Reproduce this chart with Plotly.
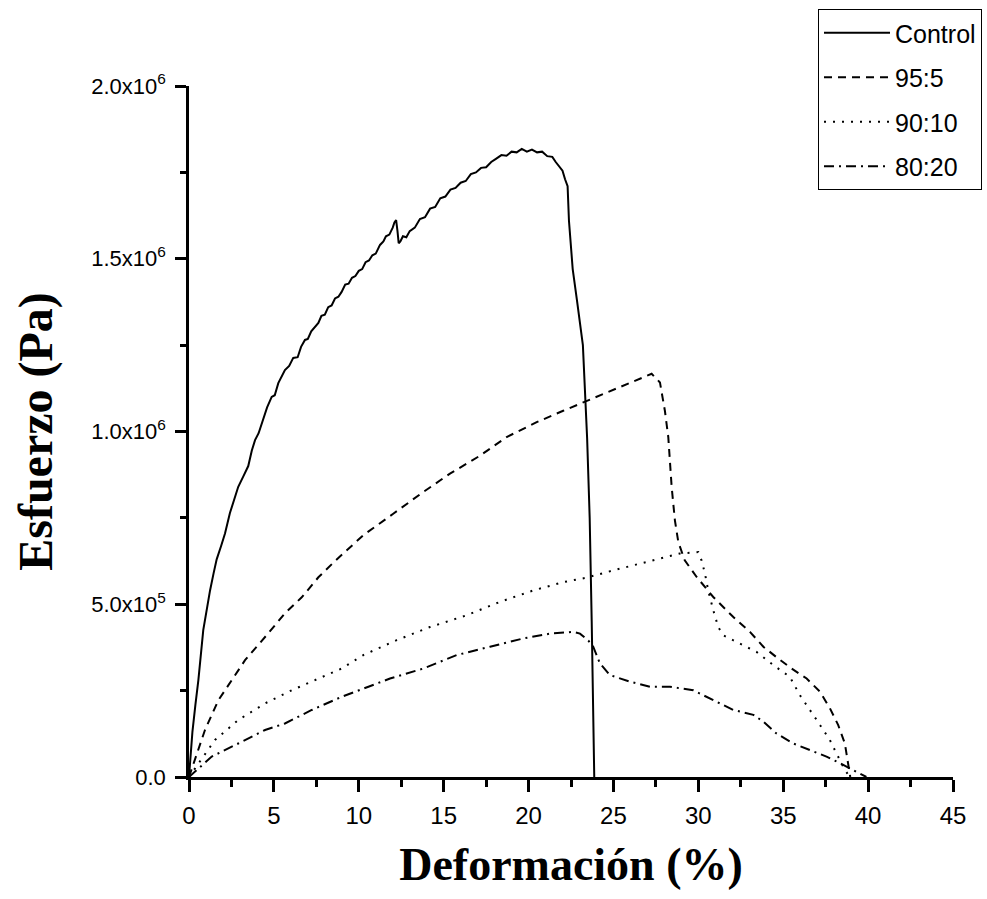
import plotly.graph_objects as go

# ---- data (strain %, stress in 1e6 Pa) ----
control_x = [0, 0.08, 0.2, 0.38, 0.55, 0.84, 1.05, 1.24, 1.45, 1.63, 1.9, 2.12, 2.41, 2.65,
             2.9, 3.2, 3.49, 3.7, 3.89, 4.1, 4.37, 4.6, 4.87, 5.05, 5.26, 5.45, 5.65, 5.9,
             6.14, 6.4, 6.6, 6.83, 7.0, 7.2, 7.4, 7.62, 7.8, 8.0, 8.2, 8.4, 8.6, 8.8, 8.99,
             9.2, 9.4, 9.6, 9.8, 10.0, 10.2, 10.4, 10.6, 10.8, 11.0, 11.25, 11.45, 11.6,
             11.8, 12.0, 12.1, 12.2, 12.28, 12.35, 12.45, 12.6, 12.8, 13.0, 13.3, 13.6,
             13.9, 14.2, 14.5, 14.8, 15.1, 15.4, 15.7, 16.0, 16.3, 16.6, 16.9, 17.2, 17.5,
             17.8, 18.1, 18.4, 18.7, 19.0, 19.3, 19.6, 19.9, 20.2, 20.5, 20.8, 21.1, 21.4,
             21.6, 21.85, 22.0, 22.15, 22.3, 22.38, 22.6, 22.85, 23.2, 23.45, 23.6, 23.72,
             23.8, 23.87]
control_y = [0, 0.06, 0.13, 0.21, 0.28, 0.425, 0.49, 0.54, 0.59, 0.63, 0.67, 0.705, 0.764,
             0.80, 0.84, 0.87, 0.90, 0.945, 0.975, 0.995, 1.033, 1.07, 1.10, 1.105, 1.14,
             1.16, 1.178, 1.19, 1.213, 1.215, 1.245, 1.265, 1.268, 1.29, 1.30, 1.314, 1.335,
             1.338, 1.36, 1.365, 1.385, 1.39, 1.404, 1.425, 1.428, 1.445, 1.45, 1.465, 1.47,
             1.49, 1.495, 1.51, 1.515, 1.54, 1.55, 1.565, 1.57, 1.59, 1.605, 1.612, 1.58,
             1.545, 1.55, 1.565, 1.562, 1.58, 1.59, 1.615, 1.62, 1.645, 1.65, 1.675, 1.68,
             1.70, 1.705, 1.72, 1.725, 1.745, 1.75, 1.763, 1.765, 1.78, 1.79, 1.80, 1.798,
             1.81, 1.808, 1.818, 1.81, 1.816, 1.808, 1.81, 1.797, 1.795, 1.78, 1.765, 1.755,
             1.73, 1.71, 1.61, 1.47, 1.38, 1.25, 0.98, 0.75, 0.45, 0.2, 0]

s95_x = [0, 0.94, 1.73, 2.51, 3.3, 4.67, 5.65, 6.64, 7.62, 8.6, 10.27, 12.03, 13.8, 15.37,
         17.14, 18.71, 20.48, 22.04, 23.03, 23.81, 25.38, 26.37, 27.25, 27.74, 28.03, 28.23,
         28.43, 28.62, 28.82, 29.2, 29.9, 30.88, 32.06, 33.04, 33.83, 34.7, 35.49, 36.38,
         37.16, 37.75, 38.24, 38.63, 38.83, 38.95]
s95_y = [0, 0.136, 0.222, 0.28, 0.338, 0.416, 0.474, 0.52, 0.578, 0.625, 0.70, 0.762, 0.825,
         0.878, 0.93, 0.984, 1.027, 1.06, 1.08, 1.097, 1.128, 1.147, 1.167, 1.142, 1.06,
         0.984, 0.839, 0.743, 0.68, 0.627, 0.579, 0.521, 0.463, 0.42, 0.377, 0.343, 0.314,
         0.285, 0.247, 0.199, 0.15, 0.097, 0.04, 0]

s90_x = [0, 1.53, 2.9, 4.48, 6.05, 7.62, 8.99, 10.27, 12.23, 14.19, 16.35, 18.32, 20.28,
         22.04, 23.42, 24.99, 26.96, 28.92, 30.0, 30.19, 30.39, 30.58, 30.88, 31.17, 31.47,
         32.45, 33.43, 34.41, 35.39, 35.98, 36.47, 36.97, 37.36, 37.75, 38.14, 38.53, 38.9]
s90_y = [0, 0.107, 0.165, 0.213, 0.251, 0.285, 0.314, 0.353, 0.396, 0.434, 0.468, 0.507,
         0.54, 0.564, 0.577, 0.598, 0.622, 0.647, 0.651, 0.627, 0.589, 0.54, 0.483, 0.434,
         0.41, 0.386, 0.362, 0.324, 0.29, 0.237, 0.203, 0.165, 0.136, 0.107, 0.068, 0.03, 0]

s80_x = [0, 1.34, 2.9, 4.48, 5.65, 7.23, 8.99, 11.84, 13.8, 15.77, 17.73, 19.69, 21.26,
         22.63, 23.03, 23.52, 23.81, 24.2, 24.79, 25.97, 27.15, 28.33, 29.7, 30.88, 32.06,
         33.24, 33.83, 34.6, 35.59, 36.57, 37.55, 38.34, 39.12, 39.9]
s80_y = [0, 0.059, 0.097, 0.136, 0.155, 0.194, 0.232, 0.285, 0.314, 0.353, 0.377, 0.401,
         0.415, 0.42, 0.415, 0.395, 0.377, 0.329, 0.295, 0.276, 0.261, 0.261, 0.251, 0.223,
         0.194, 0.18, 0.16, 0.126, 0.097, 0.078, 0.059, 0.04, 0.02, 0]

series_names = ["Control", "95:5", "90:10", "80:20"]
x_ticks = [0, 5, 10, 15, 20, 25, 30, 35, 40, 45]
y_tickvals = [0, 5e5, 1e6, 1.5e6, 2e6]
y_ticktext = ["0.0", "5.0x10<sup>5</sup>", "1.0x10<sup>6</sup>",
              "1.5x10<sup>6</sup>", "2.0x10<sup>6</sup>"]

sans = "Liberation Sans, Arial, sans-serif"
serif = "Liberation Serif, Times New Roman, serif"

fig = go.Figure()
styles = ["solid", "8px,6px", "2px,7px", "10px,5px,2px,5px"]
data = [(control_x, control_y), (s95_x, s95_y), (s90_x, s90_y), (s80_x, s80_y)]
for name, (xs, ys), dash in zip(series_names, data, styles):
    fig.add_trace(go.Scatter(
        x=xs, y=[v * 1e6 for v in ys], mode="lines", name=name, legendgroup=name,
        line=dict(color="black", width=2, dash=dash),
    ))

fig.update_layout(
    width=987, height=899,
    margin=dict(l=189, r=34, t=86, b=122, autoexpand=False),
    paper_bgcolor="white", plot_bgcolor="white",
    font=dict(family=sans, size=23, color="black"),
    showlegend=True,
    legend=dict(
        xref="container", yref="container",
        x=982 / 987, xanchor="right", y=1 - 9 / 899, yanchor="top",
        bgcolor="white", bordercolor="black", borderwidth=1,
        font=dict(family=sans, size=25, color="black"),
        itemwidth=66, traceorder="grouped", tracegroupgap=9,
    ),
    xaxis=dict(
        range=[0, 45], tickvals=x_ticks, showgrid=False, zeroline=False, automargin=False,
        showline=True, linecolor="black", linewidth=2.5,
        ticks="outside", ticklen=12, tickwidth=2.5, tickcolor="black",
        minor=dict(ticks="outside", ticklen=7, tickwidth=2.5, dtick=2.5, tickcolor="black"),
        tickfont=dict(family=sans, size=24), ticklabelstandoff=3,
        title=dict(text="<b>Deformación (%)</b>", font=dict(family=serif, size=46), standoff=21),
    ),
    yaxis=dict(
        range=[0, 2e6], tickvals=y_tickvals, ticktext=y_ticktext, showgrid=False,
        zeroline=False, automargin=False, showline=True, linecolor="black", linewidth=2.5,
        ticks="outside", ticklen=11, tickwidth=2.5, tickcolor="black",
        minor=dict(ticks="outside", ticklen=6, tickwidth=2.5, dtick=2.5e5, tickcolor="black"),
        tickfont=dict(family=sans, size=22), ticklabelstandoff=5,
        title=dict(text="<b>Esfuerzo (Pa)</b>", font=dict(family=serif, size=48), standoff=24),
    ),
)

fig.write_html("out.html")
